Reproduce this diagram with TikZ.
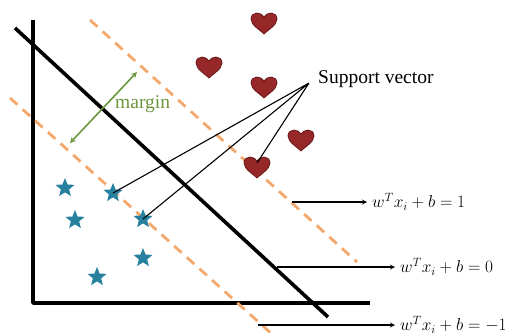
\documentclass[tikz,border=0pt]{standalone}
\usepackage{fontspec}
\setmainfont{Liberation Serif}
\usetikzlibrary{shapes.geometric}
\definecolor{heartred}{RGB}{150,40,42}
\definecolor{heartedge}{RGB}{105,25,25}
\definecolor{starteal}{RGB}{38,128,158}
\definecolor{dashorange}{RGB}{244,168,108}
\definecolor{margingreen}{RGB}{108,150,62}
\begin{document}
\begin{tikzpicture}[>=stealth,line join=round,x=1pt,y=-1pt,font=\fontsize{19.5}{22}\selectfont,
		thickline/.style={line width=3.6pt},
		marginline/.style={dashorange,line width=2.8pt,dash pattern=on 10pt off 7pt},
		svline/.style={line width=1.1pt},
		eqarrow/.style={->,line width=1.2pt},
		eqlabel/.style={anchor=west,inner sep=5pt,font=\fontsize{18}{20}\selectfont},
		starmark/.style={star,star points=5,star point ratio=2.3,fill=starteal,minimum size=20pt,inner sep=0pt},
		heart/.pic={
			\fill[heartred,draw=heartedge,line width=0.8pt] (0,11) .. controls (-4,7) and (-13,2) .. (-13,-4) .. controls (-13,-8) and (-10,-10) .. (-7,-10) .. controls (-4,-10) and (-1,-8) .. (0,-6) .. controls (1,-8) and (4,-10) .. (7,-10) .. controls (10,-10) and (13,-8) .. (13,-4) .. controls (13,2) and (4,7) .. (0,11) -- cycle;
			\coordinate (-top) at (0,-4);
		}]
			\useasboundingbox (0,0) rectangle (516,335);
			\draw [thickline](33,20)--(33,303)--(370,303);
			\draw [marginline](90,20)--(357,262)
			(10,98)--(273,335);
			\draw [thickline](15,28)--(328,317);
			\draw [<->,margingreen,line width=1.6pt](70,143)--(137,72);
			\node [anchor=west,text=margingreen,inner sep=0pt] (margin) at (115,104) {margin};
			\pic (h1) at (264,23) {heart};
			\pic (h2) at (209,67) {heart};
			\pic (h3) at (264,87) {heart};
			\pic (h4) at (301,140) {heart};
			\pic (h5) at (257,167) {heart};
			\node [starmark] (s1) at (65,188) {};
			\node [starmark] (s2) at (113,193) {};
			\node [starmark] (s3) at (75,220) {};
			\node [starmark] (s4) at (143,219) {};
			\node [starmark] (s5) at (143,258) {};
			\node [starmark] (s6) at (97,277) {};
			\node [anchor=west,inner sep=0pt] (sv) at (318,79) {Support vector};
			\coordinate (svtip) at (309,83);
			\draw [svline](svtip)--(s2.center)
			(svtip)--(s4.center)
			(svtip)--(h5-top);
			\coordinate (p1) at (292,202);
			\coordinate (p0) at (277,267);
			\coordinate (pm1) at (258,325);
			\node [eqlabel] (eq1) at (367,202) {$w^Tx_i+b=1$};
			\node [eqlabel] (eq0) at (395,267) {$w^Tx_i+b=0$};
			\node [eqlabel] (eqm1) at (395,325) {$w^Tx_i+b=-1$};
			\draw [eqarrow](p1)--(eq1.west);
			\draw [eqarrow](p0)--(eq0.west);
			\draw [eqarrow](pm1)--(eqm1.west);
		\end{tikzpicture}
\end{document}
